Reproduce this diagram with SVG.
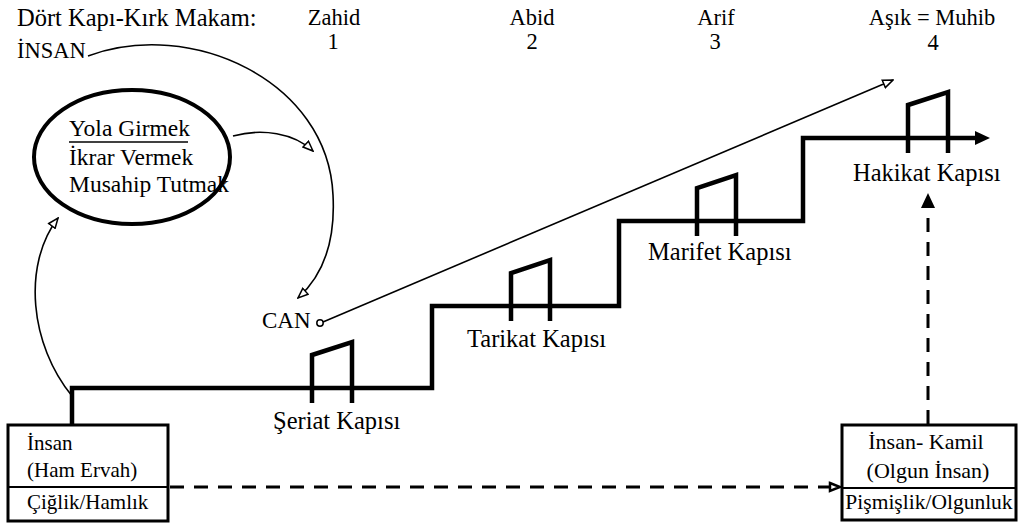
<svg xmlns="http://www.w3.org/2000/svg" width="1019" height="524" viewBox="0 0 1019 524">
<style>
.h{font-size:22.5px}
.k{font-size:24.5px}
.e{font-size:23.5px}
.b{font-size:21px}
.c{font-size:23px}
.m{text-anchor:middle}
.thin{fill:none;stroke:#000;stroke-width:1.6}
.thick{fill:none;stroke:#000;stroke-width:4.5;stroke-linejoin:miter}
.door{fill:none;stroke:#000;stroke-width:4.5;stroke-linejoin:miter}
.dash{fill:none;stroke:#000;stroke-width:3;stroke-dasharray:14 10}
.box{fill:#fff;stroke:#000;stroke-width:3}
</style>
<defs>
<marker id="open" viewBox="0 0 12 10" refX="11" refY="5" markerWidth="12" markerHeight="10" markerUnits="userSpaceOnUse" orient="auto">
<path d="M1,1 L11,5 L1,9 Z" fill="#fff" stroke="#000" stroke-width="1.5"/>
</marker>
<marker id="openthick" viewBox="0 0 14 12" refX="12" refY="6" markerWidth="14" markerHeight="12" markerUnits="userSpaceOnUse" orient="auto">
<path d="M2,2 L12,6 L2,10 Z" fill="#fff" stroke="#000" stroke-width="2.5"/>
</marker>
</defs>
<g font-family="'Liberation Serif', 'DejaVu Serif', serif" fill="#000">

<g id="header">
<text class="k" x="17" y="26">Dört Kapı-Kırk Makam:</text>
<text class="h m" x="334" y="25">Zahid</text>
<text class="h m" x="333" y="49">1</text>
<text class="h m" x="532" y="25">Abid</text>
<text class="h m" x="532" y="49">2</text>
<text class="h m" x="716" y="25">Arif</text>
<text class="h m" x="715" y="49">3</text>
<text class="h m" x="932" y="25">Aşık = Muhib</text>
<text class="h m" x="933" y="50">4</text>
</g>

<g id="insan-label">
<text class="h" x="17" y="58">İNSAN</text>
</g>

<g id="ellipse-node">
<ellipse cx="132" cy="157" rx="98" ry="67" fill="none" stroke="#000" stroke-width="4"/>
<text class="e" x="69" y="136">Yola Girmek</text>
<line x1="69" y1="142" x2="188" y2="142" stroke="#000" stroke-width="1.5"/>
<text class="e" x="69" y="165">İkrar Vermek</text>
<text class="e" x="69" y="192">Musahip Tutmak</text>
</g>

<g id="can-node">
<text class="c" x="262" y="328">CAN</text>
<circle cx="320" cy="323" r="3.2" fill="#fff" stroke="#000" stroke-width="1.5"/>
</g>

<g id="staircase">
<path class="thick" d="M72,425 L72,388 L432,388 L432,306 L619,306 L619,221 L803,221 L803,138 L975,138"/>
<path d="M975,131 L990,138 L975,145 Z" fill="#000"/>
</g>

<g id="seriat-door">
<path class="door" d="M312,403 L312,355 L352,342 L352,403"/>
<text class="k" x="273" y="429">Şeriat Kapısı</text>
</g>
<g id="tarikat-door">
<path class="door" d="M511,321 L511,273 L550,260 L550,321"/>
<text class="k" x="467" y="347">Tarikat Kapısı</text>
</g>
<g id="marifet-door">
<path class="door" d="M697,236 L697,188 L736,175 L736,236"/>
<text class="k" x="648" y="260">Marifet Kapısı</text>
</g>
<g id="hakikat-door">
<path class="door" d="M908,153 L908,105 L948,92 L948,153"/>
<text class="k" x="853" y="181">Hakikat Kapısı</text>
</g>

<g id="insan-box">
<rect class="box" x="8" y="425" width="160" height="96"/>
<line x1="8" y1="487" x2="168" y2="487" stroke="#000" stroke-width="2"/>
<text class="b" x="27" y="450">İnsan</text>
<text class="b" x="27" y="477">(Ham Ervah)</text>
<text class="b" x="27" y="509">Çiğlik/Hamlık</text>
</g>

<g id="kamil-box">
<rect class="box" x="842" y="425" width="174" height="95"/>
<line x1="842" y1="488" x2="1016" y2="488" stroke="#000" stroke-width="2"/>
<text class="m" font-size="22" x="926" y="449">İnsan- Kamil</text>
<text class="m" font-size="22" x="928" y="478">(Olgun İnsan)</text>
<text class="m" font-size="21.5" x="929" y="509">Pişmişlik/Olgunluk</text>
</g>

<g id="connectors">
<path class="thin" d="M88,56 C190,18 328,80 333,195 C336,250 318,280 298,298" marker-end="url(#open)"/>
<path class="thin" d="M233,136 C262,128 294,133 313,151" marker-end="url(#open)"/>
<path class="thin" d="M72,396 C30,345 22,265 58,218" marker-end="url(#open)"/>
<path class="thin" d="M323,322 L893,80" marker-end="url(#open)"/>
<path class="dash" d="M170,487 L840,487" marker-end="url(#openthick)"/>
<path class="dash" d="M928,424 L928,208"/>
<path d="M921,208 L928,193 L935,208 Z" fill="#000"/>
</g>
</g>
</svg>
